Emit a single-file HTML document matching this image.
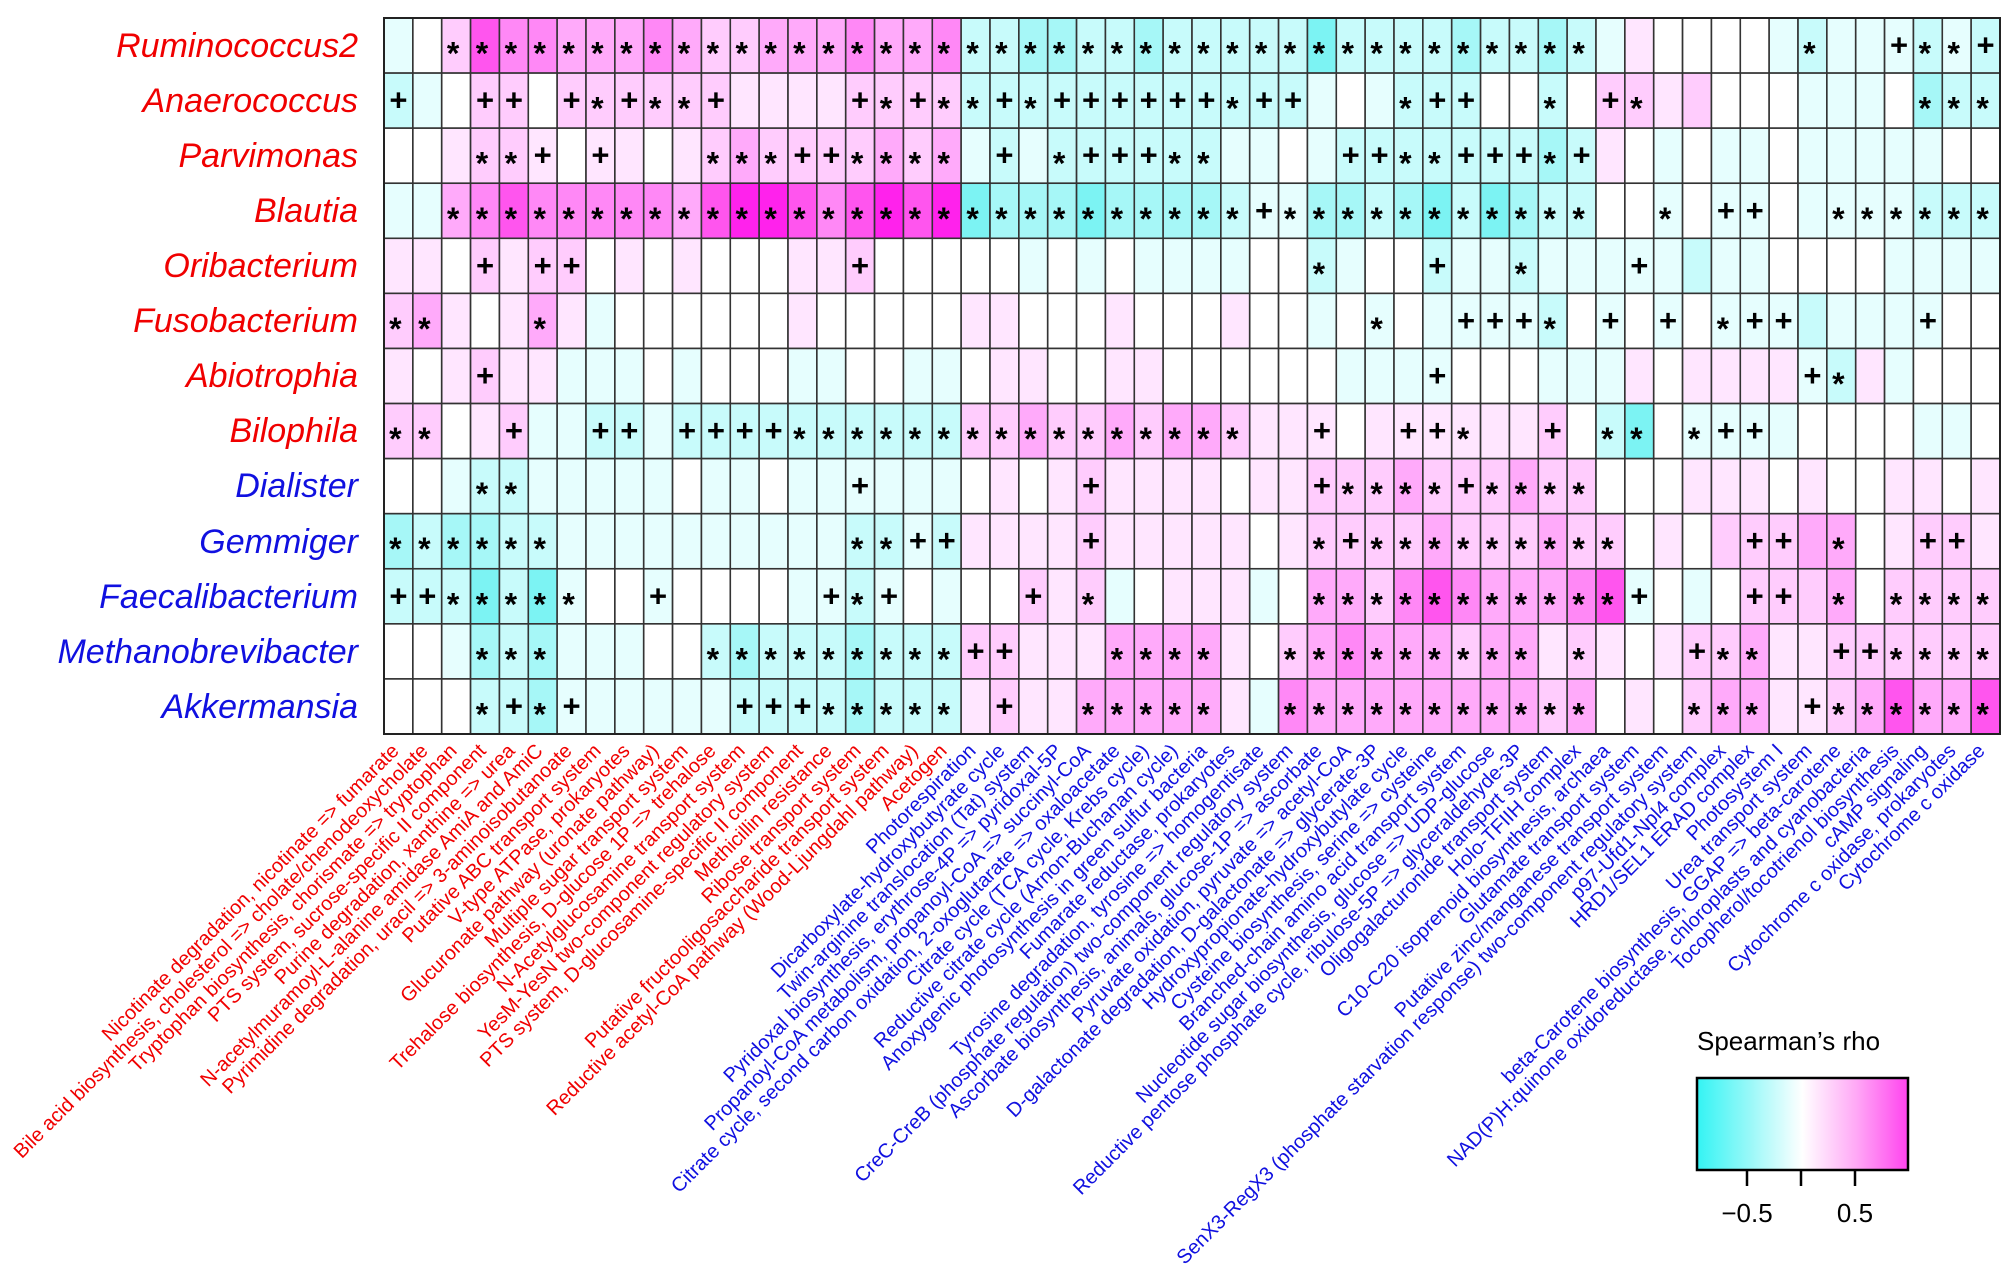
<!DOCTYPE html>
<html><head><meta charset="utf-8"><style>
html,body{margin:0;padding:0;background:#fff;}
svg{display:block;}
.rl{font-family:"Liberation Sans",sans-serif;font-style:italic;font-size:34px;text-anchor:end;}
.cl{font-family:"Liberation Sans",sans-serif;font-size:20px;text-anchor:end;}
.r{fill:#f00000;} .b{fill:#1010e0;}
</style></head><body>
<svg id="s" width="2008" height="1279" viewBox="0 0 2008 1279" xmlns="http://www.w3.org/2000/svg">
<rect width="2008" height="1279" fill="#fff"/>
<g id="cells"></g>
<g>
<text class="rl r" x="358" y="57">Ruminococcus2</text>
<text class="rl r" x="358" y="112">Anaerococcus</text>
<text class="rl r" x="358" y="167">Parvimonas</text>
<text class="rl r" x="358" y="222">Blautia</text>
<text class="rl r" x="358" y="277">Oribacterium</text>
<text class="rl r" x="358" y="332">Fusobacterium</text>
<text class="rl r" x="358" y="387">Abiotrophia</text>
<text class="rl r" x="358" y="442">Bilophila</text>
<text class="rl b" x="358" y="497">Dialister</text>
<text class="rl b" x="358" y="553">Gemmiger</text>
<text class="rl b" x="358" y="608">Faecalibacterium</text>
<text class="rl b" x="358" y="663">Methanobrevibacter</text>
<text class="rl b" x="358" y="718">Akkermansia</text>
</g>
<g id="cols">
<text class="cl r" transform="translate(400,752) rotate(-45)">Nicotinate degradation, nicotinate =&gt; fumarate</text>
<text class="cl r" transform="translate(429,752) rotate(-45)">Bile acid biosynthesis, cholesterol =&gt; cholate/chenodeoxycholate</text>
<text class="cl r" transform="translate(458,752) rotate(-45)">Tryptophan biosynthesis, chorismate =&gt; tryptophan</text>
<text class="cl r" transform="translate(487,752) rotate(-45)">PTS system, sucrose-specific II component</text>
<text class="cl r" transform="translate(516,752) rotate(-45)">Purine degradation, xanthine =&gt; urea</text>
<text class="cl r" transform="translate(544,752) rotate(-45)">N-acetylmuramoyl-L-alanine amidase AmiA and AmiC</text>
<text class="cl r" transform="translate(573,752) rotate(-45)">Pyrimidine degradation, uracil =&gt; 3-aminoisobutanoate</text>
<text class="cl r" transform="translate(602,752) rotate(-45)">Putative ABC transport system</text>
<text class="cl r" transform="translate(631,752) rotate(-45)">V-type ATPase, prokaryotes</text>
<text class="cl r" transform="translate(660,752) rotate(-45)">Glucuronate pathway (uronate pathway)</text>
<text class="cl r" transform="translate(689,752) rotate(-45)">Multiple sugar transport system</text>
<text class="cl r" transform="translate(717,752) rotate(-45)">Trehalose biosynthesis, D-glucose 1P =&gt; trehalose</text>
<text class="cl r" transform="translate(746,752) rotate(-45)">N-Acetylglucosamine transport system</text>
<text class="cl r" transform="translate(775,752) rotate(-45)">YesM-YesN two-component regulatory system</text>
<text class="cl r" transform="translate(804,752) rotate(-45)">PTS system, D-glucosamine-specific II component</text>
<text class="cl r" transform="translate(833,752) rotate(-45)">Methicillin resistance</text>
<text class="cl r" transform="translate(862,752) rotate(-45)">Ribose transport system</text>
<text class="cl r" transform="translate(890,752) rotate(-45)">Putative fructooligosaccharide transport system</text>
<text class="cl r" transform="translate(919,752) rotate(-45)">Reductive acetyl-CoA pathway (Wood-Ljungdahl pathway)</text>
<text class="cl r" transform="translate(948,752) rotate(-45)">Acetogen</text>
<text class="cl b" transform="translate(977,752) rotate(-45)">Photorespiration</text>
<text class="cl b" transform="translate(1006,752) rotate(-45)">Dicarboxylate-hydroxybutyrate cycle</text>
<text class="cl b" transform="translate(1035,752) rotate(-45)">Twin-arginine translocation (Tat) system</text>
<text class="cl b" transform="translate(1063,752) rotate(-45)">Pyridoxal biosynthesis, erythrose-4P =&gt; pyridoxal-5P</text>
<text class="cl b" transform="translate(1092,752) rotate(-45)">Propanoyl-CoA metabolism, propanoyl-CoA =&gt; succinyl-CoA</text>
<text class="cl b" transform="translate(1121,752) rotate(-45)">Citrate cycle, second carbon oxidation, 2-oxoglutarate =&gt; oxaloacetate</text>
<text class="cl b" transform="translate(1150,752) rotate(-45)">Citrate cycle (TCA cycle, Krebs cycle)</text>
<text class="cl b" transform="translate(1179,752) rotate(-45)">Reductive citrate cycle (Arnon-Buchanan cycle)</text>
<text class="cl b" transform="translate(1208,752) rotate(-45)">Anoxygenic photosynthesis in green sulfur bacteria</text>
<text class="cl b" transform="translate(1236,752) rotate(-45)">Fumarate reductase, prokaryotes</text>
<text class="cl b" transform="translate(1265,752) rotate(-45)">Tyrosine degradation, tyrosine =&gt; homogentisate</text>
<text class="cl b" transform="translate(1294,752) rotate(-45)">CreC-CreB (phosphate regulation) two-component regulatory system</text>
<text class="cl b" transform="translate(1323,752) rotate(-45)">Ascorbate biosynthesis, animals, glucose-1P =&gt; ascorbate</text>
<text class="cl b" transform="translate(1352,752) rotate(-45)">Pyruvate oxidation, pyruvate =&gt; acetyl-CoA</text>
<text class="cl b" transform="translate(1381,752) rotate(-45)">D-galactonate degradation, D-galactonate =&gt; glycerate-3P</text>
<text class="cl b" transform="translate(1409,752) rotate(-45)">Hydroxypropionate-hydroxybutylate cycle</text>
<text class="cl b" transform="translate(1438,752) rotate(-45)">Cysteine biosynthesis, serine =&gt; cysteine</text>
<text class="cl b" transform="translate(1467,752) rotate(-45)">Branched-chain amino acid transport system</text>
<text class="cl b" transform="translate(1496,752) rotate(-45)">Nucleotide sugar biosynthesis, glucose =&gt; UDP-glucose</text>
<text class="cl b" transform="translate(1525,752) rotate(-45)">Reductive pentose phosphate cycle, ribulose-5P =&gt; glyceraldehyde-3P</text>
<text class="cl b" transform="translate(1554,752) rotate(-45)">Oligogalacturonide transport system</text>
<text class="cl b" transform="translate(1582,752) rotate(-45)">Holo-TFIIH complex</text>
<text class="cl b" transform="translate(1611,752) rotate(-45)">C10-C20 isoprenoid biosynthesis, archaea</text>
<text class="cl b" transform="translate(1640,752) rotate(-45)">Glutamate transport system</text>
<text class="cl b" transform="translate(1669,752) rotate(-45)">Putative zinc/manganese transport system</text>
<text class="cl b" transform="translate(1698,752) rotate(-45)">SenX3-RegX3 (phosphate starvation response) two-component regulatory system</text>
<text class="cl b" transform="translate(1727,752) rotate(-45)">p97-Ufd1-Npl4 complex</text>
<text class="cl b" transform="translate(1755,752) rotate(-45)">HRD1/SEL1 ERAD complex</text>
<text class="cl b" transform="translate(1784,752) rotate(-45)">Photosystem I</text>
<text class="cl b" transform="translate(1813,752) rotate(-45)">Urea transport system</text>
<text class="cl b" transform="translate(1842,752) rotate(-45)">beta-Carotene biosynthesis, GGAP =&gt; beta-carotene</text>
<text class="cl b" transform="translate(1871,752) rotate(-45)">NAD(P)H:quinone oxidoreductase, chloroplasts and cyanobacteria</text>
<text class="cl b" transform="translate(1900,752) rotate(-45)">Tocopherol/tocotrienol biosynthesis</text>
<text class="cl b" transform="translate(1928,752) rotate(-45)">cAMP signaling</text>
<text class="cl b" transform="translate(1957,752) rotate(-45)">Cytochrome c oxidase, prokaryotes</text>
<text class="cl b" transform="translate(1986,752) rotate(-45)">Cytochrome c oxidase</text>
</g>
<defs>
<linearGradient id="lg" x1="0" x2="1" y1="0" y2="0">
<stop offset="0" stop-color="#33f4f4"/>
<stop offset="0.25" stop-color="#99f8f8"/>
<stop offset="0.5" stop-color="#ffffff"/>
<stop offset="0.75" stop-color="#ffaaf6"/>
<stop offset="1" stop-color="#ff44ee"/>
</linearGradient>
</defs>
<text x="1697" y="1050" font-family="Liberation Sans, sans-serif" font-size="26">Spearman’s rho</text>
<rect x="1697" y="1078" width="211" height="92" fill="url(#lg)" stroke="#000" stroke-width="2.5"/>
<g stroke="#000" stroke-width="2.5">
<line x1="1747" y1="1170" x2="1747" y2="1186"/>
<line x1="1801" y1="1170" x2="1801" y2="1186"/>
<line x1="1855" y1="1170" x2="1855" y2="1186"/>
</g>
<text x="1747" y="1222" text-anchor="middle" font-family="Liberation Sans, sans-serif" font-size="26">−0.5</text>
<text x="1855" y="1222" text-anchor="middle" font-family="Liberation Sans, sans-serif" font-size="26">0.5</text>
</svg>
<script>
var rows=[
"c1 w p2* p5* p4* p4* p3* p3* p3* p4* p3* p2* p2* p3* p3* p3* p4* p3* p3* p4* c2* c2* c3* c3* c2* c2* c3* c2* c2* c2* c2* c2* c4* c2* c2* c2* c2* c3* c2* c2* c3* c2* c1 p1 w w w w c1 c2* c1 c1 c1+ c2* c1* c2+",
"c2+ c1 w p2+ p2+ w p2+ p2* p2+ p2* p2* p2+ p1 p1 p1 p1 p2+ p2* p2+ p2* c2* c2+ c2* c2+ c2+ c2+ c2+ c2+ c2+ c2* c2+ c2+ c1 w c1 c2* c2+ c2+ w w c2* w p2+ p2* p1 p2 w w w c1 c1 c1 w c3* c2* c2*",
"w w p1 p2* p2* p1+ w p1+ p1 w p1 p2* p3* p2* p2+ p2+ p2* p3* p2* p3* c1 c2+ c1 c2* c2+ c2+ c2+ c2* c2* c1 c1 w c1 c2+ c2+ c2* c2* c2+ c2+ c2+ c3* c2+ p1 w c1 w c1 c1 w c1 c1 c1 c1 c1 w w",
"c1 c1 p3* p4* p5* p4* p4* p4* p4* p4* p3* p5* p6* p6* p5* p4* p5* p6* p5* p6* c4* c3* c3* c3* c4* c3* c3* c3* c3* c2* c1+ c1* c3* c3* c2* c3* c4* c2* c4* c3* c2* c2* w w c1* w c1+ c1+ w c1 c1* c1* c1* c2* c2* c2*",
"p1 p1 w p2+ p1 p2+ p2+ w p1 w p1 w w w p1 p1 p2+ w w w w w c1 w c1 w c1 c1 c1 c1 w w c2* c1 w w c2+ c1 c1 c2* c1 c1 c1 c1+ c1 c2 c1 c1 w w w w c1 c1 c1 c1",
"p2* p3* p1 w p1 p3* p1 c1 w w w w w w p1 w w w w w p1 p1 w w w p1 w w w p1 w w c1 w c1* w c1 c1+ c1+ c1+ c2* w c1+ w c1+ w c1* c1+ c1+ c2 c1 c1 c1 c1+ w w",
"p1 w p1 p2+ p1 p1 c1 c1 c1 w c1 w w w c1 c1 w w c1 c1 w p1 p1 w w p1 p1 w w w w w w c1 c1 c1 c1+ w w w c1 c1 c1 p1 w p1 p1 p1 p1 c1+ c2* p1 c1 w w w",
"p2* p2* w p1 p2+ c1 c1 c2+ c2+ c1 c2+ c2+ c2+ c2+ c2* c2* c2* c2* c2* c2* p2* p2* p3* p2* p2* p3* p2* p3* p3* p2* p1 p1 p1+ w p1 p1+ p1+ p1* p1 p1 p2+ w c2* c4* w c1* c1+ c1+ c1 w w w w c1 c1 w",
"w w c1 c2* c2* c1 c1 c1 c1 c1 w c1 c1 w c1 c1 c1+ c1 c1 c1 w p1 w p1 p2+ p1 p1 p1 p1 w p1 p1 p2+ p2* p2* p3* p2* p2+ p2* p3* p2* p2* w w w p1 p1 p1 w p1 w w p1 p1 w p1",
"c3* c2* c3* c3* c2* c2* c1 c1 c1 c1 c1 c1 c1 c1 c1 c1 c2* c2* c1+ c2+ p1 p1 p1 p1 p2+ p1 p1 p1 p1 p1 w p1 p2* p2+ p2* p2* p3* p2* p2* p2* p3* p2* p2* w p1 w p2 p2+ p2+ p3 p3* w p1 p2+ p2+ p1",
"c2+ c2+ c2* c4* c2* c4* c1* w w c1+ w w w w c1 c1+ c2* c1+ w c1 w w p2+ p1 p2* c1 w p1 p1 p1 c1 w p3* p3* p2* p4* p5* p4* p3* p3* p3* p4* p5* c1+ w c1 w p2+ p2+ p2 p3* w p2* p2* p2* p2*",
"w w c1 c3* c2* c3* c1 c1 c1 w w c2* c3* c2* c2* c2* c3* c2* c2* c2* p2+ p2+ p1 p1 p1 p3* p3* p3* p3* p1 w p2* p3* p4* p3* p3* p3* p2* p3* p3* p1 p2* p1 w p1 p2+ p2* p3* p1 p1 p2+ p2+ p2* p2* p2* p2*",
"w w w c2* c2+ c3* c1+ c1 c1 c1 c1 c1 c2+ c2+ c2+ c2* c3* c2* c2* c2* p1 p2+ p1 p1 p3* p3* p3* p3* p3* p1 c1 p4* p3* p3* p3* p3* p3* p3* p3* p3* p2* p3* w p1 w p2* p3* p3* p1 p1+ p2* p3* p5* p3* p3* p5*"
];
var col={w:"#ffffff",c1:"#e6fefe",c2:"#c8fbfb",c3:"#a6f7f7",c4:"#7cf3f3",c5:"#40f0f0",
p1:"#ffe6ff",p2:"#ffccfd",p3:"#ffaafa",p4:"#ff88f6",p5:"#ff55ee",p6:"#ff22ec"};
var X0=384,Y0=18,CW=(2000-384)/56,RH=(734-18)/13;
var g=document.getElementById("cells"),h="";
for(var r=0;r<rows.length;r++){var t=rows[r].split(" ");
for(var c=0;c<t.length;c++){var tok=t[c],m="";
if(tok.slice(-1)=="*"||tok.slice(-1)=="+"){m=tok.slice(-1);tok=tok.slice(0,-1);}
var x=X0+c*CW,y=Y0+r*RH;
h+='<rect x="'+x.toFixed(2)+'" y="'+y.toFixed(2)+'" width="'+CW.toFixed(2)+'" height="'+RH.toFixed(2)+'" fill="'+col[tok]+'" stroke="#333" stroke-width="1.6"/>';
var cx=x+CW/2,cy=y+RH/2;
if(m=="*")h+='<text x="'+(cx-3).toFixed(1)+'" y="'+(cy+19).toFixed(1)+'" text-anchor="middle" font-family="Liberation Sans, sans-serif" font-weight="bold" font-size="32">*</text>';
if(m=="+")h+='<text x="'+cx.toFixed(1)+'" y="'+(cy+10).toFixed(1)+'" text-anchor="middle" font-family="Liberation Sans, sans-serif" font-weight="bold" font-size="31">+</text>';
}}
h+='<rect x="384" y="18" width="1616" height="716" fill="none" stroke="#222" stroke-width="2"/>';
g.innerHTML=h;
</script>
</body></html>
